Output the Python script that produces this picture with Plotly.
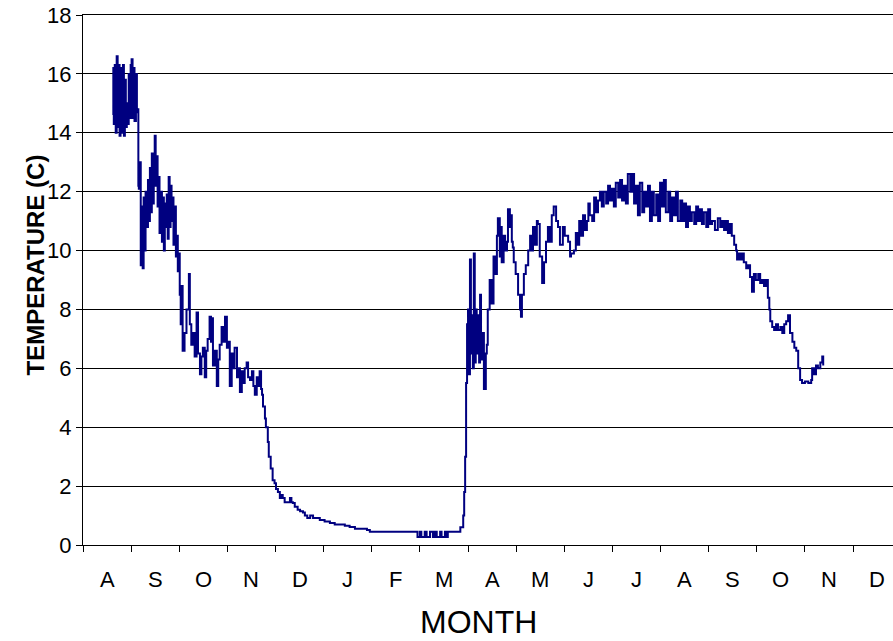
import plotly.graph_objs as go

# Months along the axis (label sits in the middle of each month slot)
month_labels = ['A', 'S', 'O', 'N', 'D', 'J', 'F', 'M', 'A', 'M', 'J', 'J', 'A', 'S', 'O', 'N', 'D']

# Time in months from the start of the first August, and temperature (C)
month_pos = [
    0.62, 0.63, 0.64, 0.66, 0.68, 0.70, 0.72, 0.74, 0.76, 0.78, 0.80, 0.83, 0.85, 0.87, 0.89, 0.91,
    0.93, 0.95, 0.97, 0.99, 1.01, 1.03, 1.05, 1.07, 1.10, 1.12, 1.14, 1.15, 1.16, 1.18, 1.20, 1.22,
    1.24, 1.26, 1.28, 1.30, 1.32, 1.35, 1.37, 1.39, 1.41, 1.43, 1.45, 1.47, 1.49, 1.51, 1.53, 1.55,
    1.57, 1.59, 1.62, 1.64, 1.66, 1.68, 1.70, 1.72, 1.74, 1.76, 1.78, 1.80, 1.82, 1.84, 1.86, 1.88,
    1.91, 1.93, 1.95, 1.97, 1.99, 2.01, 2.03, 2.05, 2.07, 2.11, 2.15, 2.20, 2.22, 2.25, 2.28, 2.32,
    2.36, 2.39, 2.43, 2.46, 2.49, 2.53, 2.56, 2.59, 2.63, 2.66, 2.68, 2.70, 2.74, 2.78, 2.81, 2.84,
    2.88, 2.92, 2.95, 2.99, 3.01, 3.05, 3.09, 3.12, 3.15, 3.20, 3.23, 3.26, 3.30, 3.33, 3.36, 3.40,
    3.43, 3.47, 3.51, 3.54, 3.57, 3.61, 3.64, 3.67, 3.70, 3.72, 3.74, 3.78, 3.80, 3.84, 3.86, 3.90,
    3.94, 3.98, 4.01, 4.05, 4.09, 4.12, 4.15, 4.19, 4.25, 4.30, 4.33, 4.36, 4.40, 4.46, 4.51, 4.57,
    4.61, 4.66, 4.72, 4.78, 4.86, 4.92, 5.02, 5.13, 5.23, 5.33, 5.44, 5.54, 5.65, 5.75, 5.90, 5.96,
    6.17, 6.38, 6.58, 6.79, 6.93, 6.95, 7.00, 7.03, 7.10, 7.14, 7.21, 7.27, 7.31, 7.35, 7.42, 7.45,
    7.52, 7.56, 7.58, 7.73, 7.80, 7.84, 7.88, 7.90, 7.92, 7.94, 7.96, 7.98, 8.00, 8.02, 8.04, 8.06,
    8.08, 8.10, 8.12, 8.14, 8.16, 8.18, 8.21, 8.23, 8.25, 8.27, 8.31, 8.33, 8.37, 8.39, 8.41, 8.45,
    8.49, 8.53, 8.56, 8.60, 8.62, 8.66, 8.68, 8.70, 8.74, 8.77, 8.81, 8.83, 8.87, 8.89, 8.91, 8.93,
    8.95, 8.99, 9.04, 9.08, 9.10, 9.12, 9.16, 9.20, 9.25, 9.29, 9.31, 9.35, 9.39, 9.43, 9.45, 9.49,
    9.54, 9.58, 9.62, 9.66, 9.70, 9.74, 9.78, 9.83, 9.87, 9.91, 9.97, 10.01, 10.08, 10.12, 10.14, 10.20,
    10.24, 10.28, 10.31, 10.35, 10.39, 10.43, 10.47, 10.50, 10.53, 10.58, 10.62, 10.66, 10.70, 10.74, 10.78, 10.82,
    10.87, 10.91, 10.95, 10.99, 11.03, 11.07, 11.12, 11.16, 11.20, 11.24, 11.28, 11.32, 11.37, 11.41, 11.45, 11.49,
    11.53, 11.57, 11.62, 11.66, 11.70, 11.74, 11.78, 11.82, 11.86, 11.91, 11.95, 11.99, 12.03, 12.07, 12.11, 12.16,
    12.20, 12.24, 12.28, 12.32, 12.36, 12.41, 12.45, 12.49, 12.53, 12.57, 12.61, 12.65, 12.70, 12.74, 12.78, 12.82,
    12.86, 12.90, 12.95, 12.99, 13.03, 13.07, 13.13, 13.19, 13.24, 13.28, 13.32, 13.36, 13.40, 13.44, 13.48, 13.53,
    13.57, 13.59, 13.61, 13.65, 13.69, 13.73, 13.78, 13.82, 13.86, 13.90, 13.94, 13.98, 14.03, 14.07, 14.11, 14.15,
    14.19, 14.23, 14.26, 14.28, 14.32, 14.36, 14.40, 14.44, 14.49, 14.53, 14.57, 14.61, 14.65, 14.69, 14.74, 14.78,
    14.82, 14.86, 14.90, 14.94, 15.00, 15.07, 15.13, 15.15, 15.19, 15.23, 15.27, 15.32, 15.36, 15.38,
]
temp_c = [
    14.6, 16.2, 14.3, 16.3, 14.0, 16.6, 14.2, 16.3, 13.9, 16.2, 14.0, 16.3, 13.9, 15.8, 14.2, 15.0,
    14.3, 16.0, 14.5, 16.3, 16.5, 14.5, 16.2, 14.4, 16.0, 14.7, 14.8, 12.2, 12.1, 13.0, 9.5, 11.5,
    9.4, 11.8, 10.0, 12.0, 10.8, 12.4, 11.0, 12.8, 11.3, 13.3, 11.6, 12.9, 13.9, 12.2, 13.2, 11.5,
    12.5, 10.6, 12.0, 10.3, 11.8, 10.0, 11.6, 10.8, 11.9, 10.4, 12.5, 10.8, 12.2, 11.0, 11.8, 10.2,
    11.5, 9.8, 10.5, 9.3, 9.9, 8.5, 7.5, 8.8, 6.6, 7.2, 8.0, 9.2, 7.5, 6.8, 7.2, 6.4,
    7.9, 6.5, 5.8, 6.4, 6.7, 5.7, 6.6, 7.0, 7.75, 6.9, 7.7, 6.1, 6.6, 5.4, 6.3, 6.8,
    7.4, 6.9, 7.75, 6.7, 6.9, 5.4, 6.5, 6.0, 6.7, 5.7, 6.0, 5.2, 5.9, 5.5, 6.0, 6.2,
    5.7, 5.6, 5.9, 5.4, 5.1, 5.7, 5.4, 5.9, 5.3, 5.1, 4.7, 4.3, 4.0, 3.5, 3.0, 2.6,
    2.2, 2.1, 1.9, 1.8, 1.6, 1.7, 1.6, 1.45, 1.45, 1.6, 1.45, 1.43, 1.3, 1.2, 1.15, 1.1,
    1.0, 0.92, 1.0, 0.92, 0.92, 0.85, 0.8, 0.75, 0.7, 0.7, 0.65, 0.61, 0.55, 0.55, 0.51, 0.45,
    0.45, 0.45, 0.45, 0.45, 0.45, 0.27, 0.45, 0.27, 0.45, 0.27, 0.45, 0.27, 0.45, 0.27, 0.45, 0.27,
    0.45, 0.27, 0.45, 0.45, 0.45, 0.6, 0.6, 1.0, 1.8, 3.0, 5.5, 7.5, 8.0, 5.8, 9.7, 6.5,
    7.8, 6.0, 9.9, 6.2, 8.0, 6.5, 7.8, 6.2, 8.5, 6.3, 7.2, 5.3, 6.5, 6.8, 8.0, 9.0,
    8.2, 9.8, 9.2, 10.5, 11.1, 9.8, 10.8, 9.6, 10.5, 10.0, 10.3, 11.4, 10.8, 11.2, 10.3, 10.1,
    9.6, 9.2, 8.5, 8.0, 7.75, 8.5, 9.2, 9.5, 10.0, 10.5, 10.0, 10.8, 10.2, 11.0, 10.9, 9.8,
    8.9, 9.6, 10.3, 10.8, 10.3, 11.2, 11.5, 11.0, 10.8, 10.2, 10.8, 10.5, 10.3, 9.8, 9.9, 10.0,
    10.6, 10.2, 11.0, 10.5, 11.2, 10.7, 11.0, 11.6, 11.2, 11.0, 11.8, 11.3, 11.7, 12.0, 11.5, 12.0,
    11.6, 12.2, 11.7, 12.1, 11.5, 12.3, 11.8, 12.4, 11.7, 12.2, 11.6, 12.6, 12.0, 12.6, 11.6, 12.2,
    11.2, 12.3, 11.3, 12.0, 11.5, 12.2, 11.0, 12.0, 11.2, 11.9, 11.0, 12.3, 11.5, 12.4, 11.3, 12.0,
    11.0, 11.8, 11.2, 12.0, 11.0, 11.7, 11.0, 11.6, 10.8, 11.5, 11.0, 11.3, 10.9, 11.5, 11.0, 11.4,
    10.9, 11.3, 10.8, 11.4, 10.9, 11.0, 10.7, 11.1, 10.8, 11.0, 10.7, 11.0, 10.6, 10.9, 10.5, 10.2,
    10.0, 9.7, 9.9, 9.7, 9.9, 9.6, 9.4, 9.5, 9.1, 8.6, 9.2, 9.0, 9.2, 8.9, 9.0, 8.8,
    9.0, 8.4, 8.0, 7.6, 7.4, 7.3, 7.5, 7.3, 7.4, 7.2, 7.5, 7.6, 7.8, 7.2, 6.9, 6.7,
    6.6, 6.0, 5.6, 5.5, 5.55, 5.5, 5.6, 6.0, 5.8, 6.1, 6.0, 6.2, 6.4, 6.1,
]

y_ticks = [0, 2, 4, 6, 8, 10, 12, 14, 16, 18]

font = 'Liberation Sans, Arial, sans-serif'

data = [go.Scatter(x=month_pos, y=temp_c, mode='lines', line_shape='hv',
                   line=dict(color='#000080', width=2), showlegend=False)]

layout = go.Layout(
    width=893, height=641,
    margin=dict(l=83, r=0, t=15, b=96),
    paper_bgcolor='white', plot_bgcolor='white',
    font=dict(family=font, color='black'),
    xaxis=dict(range=[0, 16.83], tickvals=list(range(0, 18)), ticktext=[''] * 18,
               ticks='outside', ticklen=6, tickcolor='black', showgrid=False,
               showline=True, linecolor='black', linewidth=1, mirror=True, zeroline=False),
    yaxis=dict(range=[0, 18], tickvals=y_ticks, ticks='outside', ticklen=6, tickcolor='black',
               tickfont=dict(size=22), showgrid=True, gridcolor='black', gridwidth=1,
               showline=True, linecolor='black', linewidth=1, zeroline=False),
)

fig = go.Figure(data=data, layout=layout)

# month letters centred between the tick marks
for i, m in enumerate(month_labels):
    fig.add_annotation(x=i + 0.5, y=0, xref='x', yref='paper', text=m, showarrow=False,
                       yanchor='top', yshift=-20, font=dict(size=22, family=font))

fig.add_annotation(x=0.488, y=-0.145, xref='paper', yref='paper', text='MONTH', showarrow=False,
                   yanchor='middle', font=dict(size=32, family=font))
fig.add_annotation(x=-0.078, y=0.528, xref='paper', yref='paper', text='<b>TEMPERATURE (C)</b>',
                   textangle=-90, showarrow=False, font=dict(size=24, family=font))

# drop the browser's default body margin so the figure fills the window
fig.write_html('out.html', config={'displayModeBar': False},
               post_script="document.body.style.margin='0';")
